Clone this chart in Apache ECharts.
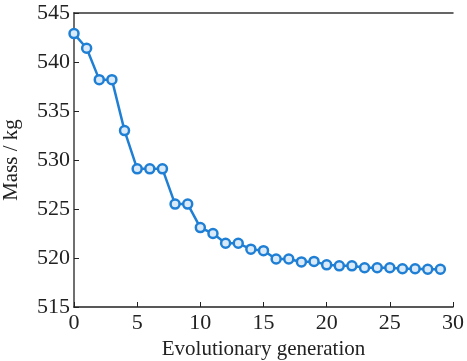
<!DOCTYPE html>
<html>
<head>
<meta charset="utf-8">
<script src="https://cdn.jsdelivr.net/npm/echarts@6/dist/echarts.min.js"></script>
<style>
  html, body { margin: 0; padding: 0; background: #fff; }
  #chart { width: 467px; height: 361px; }
</style>
</head>
<body>
<div id="chart"></div>
<script>
const generations = Array.from({ length: 30 }, (_, i) => i)
const mass = [
  542.9, 541.4, 538.2, 538.2, 533.0, 529.1, 529.1, 529.1, 525.5, 525.5,
  523.1, 522.5, 521.5, 521.5, 520.9, 520.75, 519.9, 519.9, 519.6, 519.65,
  519.3, 519.2, 519.2, 519.0, 519.0, 519.0, 518.9, 518.9, 518.85, 518.85
]

const font = '"Liberation Serif", "DejaVu Serif", serif'
const axisColor = '#222'

const chart = echarts.init(document.getElementById('chart'))

// Main axes plus a top/right pair used only to close the frame
const option = {
  backgroundColor: '#fff',
  animation: false,
  grid: { left: 74, top: 13, right: 14, bottom: 54, outerBoundsMode: 'none', containLabel: false },
  xAxis: [
    {
      type: 'value',
      min: 0,
      max: 30,
      interval: 5,
      name: 'Evolutionary generation',
      nameLocation: 'middle',
      nameGap: 31,
      nameTextStyle: { fontFamily: font, fontSize: 21, color: axisColor },
      axisLine: { lineStyle: { color: axisColor, width: 1.5 } },
      axisTick: { inside: true, length: 5, lineStyle: { color: axisColor } },
      axisLabel: { fontFamily: font, fontSize: 22, color: axisColor, margin: 5 },
      splitLine: { show: false }
    },
    {
      type: 'value',
      position: 'top',
      min: 0,
      max: 30,
      axisLine: { show: true, lineStyle: { color: '#333', width: 1.5 } },
      axisTick: { show: false },
      axisLabel: { show: false },
      splitLine: { show: false }
    }
  ],
  yAxis: [
    {
      type: 'value',
      min: 515,
      max: 545,
      interval: 5,
      name: 'Mass / kg',
      nameLocation: 'middle',
      nameGap: 52,
      nameTextStyle: { fontFamily: font, fontSize: 21, color: axisColor },
      axisLine: { show: true, lineStyle: { color: axisColor, width: 1.5 } },
      axisTick: { inside: true, length: 5, lineStyle: { color: axisColor } },
      axisLabel: { fontFamily: font, fontSize: 22, color: axisColor, margin: 4 },
      splitLine: { show: false }
    },
    {
      type: 'value',
      position: 'right',
      min: 515,
      max: 545,
      axisLine: { show: true, lineStyle: { color: '#777', width: 1.5 } },
      axisTick: { show: false },
      axisLabel: { show: false },
      splitLine: { show: false }
    }
  ],
  series: [
    {
      type: 'line',
      data: generations.map((g, i) => [g, mass[i]]),
      symbol: 'circle',
      symbolSize: 9,
      lineStyle: { color: '#1f7fd4', width: 2.5 },
      itemStyle: { color: '#dbeaf9', borderColor: '#1f7fd4', borderWidth: 2.5 }
    }
  ]
}

chart.setOption(option)
</script>
</body>
</html>
